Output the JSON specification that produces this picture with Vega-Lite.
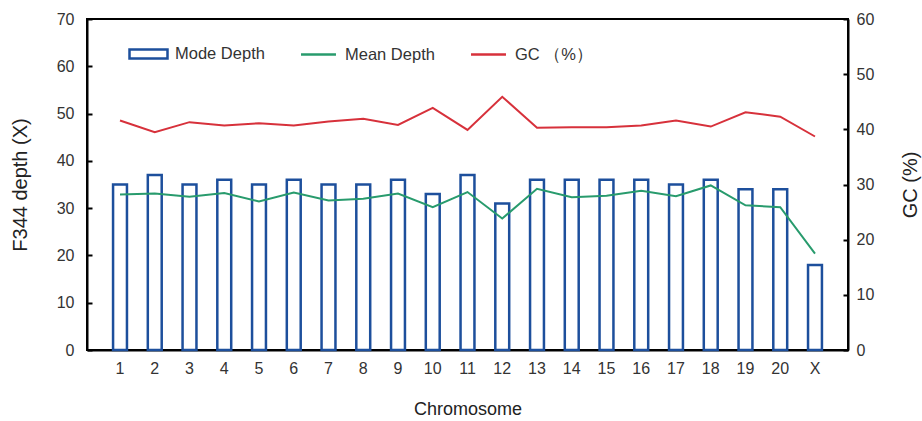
{
  "$schema": "https://vega.github.io/schema/vega-lite/v6.json",
  "width": 761,
  "height": 331,
  "autosize": {"type": "none"},
  "padding": {"left": 87, "top": 19, "right": 74, "bottom": 71},
  "config": {
    "view": {"stroke": "#000", "strokeWidth": 2},
    "font": "Liberation Sans",
    "axis": {
      "domainColor": "#000",
      "domainWidth": 2,
      "tickColor": "#000",
      "tickWidth": 2,
      "grid": false,
      "labelFont": "Liberation Sans",
      "labelFontSize": 16,
      "labelColor": "#333",
      "titleFont": "Liberation Sans",
      "titleFontSize": 20,
      "titleFontWeight": "normal",
      "titleColor": "#222"
    }
  },
  "data": {
    "values": [
      {"chr": "1", "mode": 35, "mean": 32.9, "gc": 41.6},
      {"chr": "2", "mode": 37, "mean": 33.1, "gc": 39.5},
      {"chr": "3", "mode": 35, "mean": 32.4, "gc": 41.3},
      {"chr": "4", "mode": 36, "mean": 33.2, "gc": 40.7},
      {"chr": "5", "mode": 35, "mean": 31.4, "gc": 41.1},
      {"chr": "6", "mode": 36, "mean": 33.3, "gc": 40.7},
      {"chr": "7", "mode": 35, "mean": 31.6, "gc": 41.4},
      {"chr": "8", "mode": 35, "mean": 32.0, "gc": 41.9},
      {"chr": "9", "mode": 36, "mean": 33.1, "gc": 40.8},
      {"chr": "10", "mode": 33, "mean": 30.2, "gc": 43.9},
      {"chr": "11", "mode": 37, "mean": 33.4, "gc": 39.9},
      {"chr": "12", "mode": 31, "mean": 27.8, "gc": 45.9},
      {"chr": "13", "mode": 36, "mean": 34.1, "gc": 40.3},
      {"chr": "14", "mode": 36, "mean": 32.3, "gc": 40.4},
      {"chr": "15", "mode": 36, "mean": 32.6, "gc": 40.4},
      {"chr": "16", "mode": 36, "mean": 33.7, "gc": 40.7},
      {"chr": "17", "mode": 35, "mean": 32.5, "gc": 41.6},
      {"chr": "18", "mode": 36, "mean": 34.8, "gc": 40.5},
      {"chr": "19", "mode": 34, "mean": 30.6, "gc": 43.1},
      {"chr": "20", "mode": 34, "mean": 30.2, "gc": 42.3},
      {"chr": "X", "mode": 18, "mean": 20.4, "gc": 38.7}
    ]
  },
  "encoding": {
    "x": {
      "field": "chr",
      "type": "ordinal",
      "sort": null,
      "scale": {"paddingInner": 0.6, "paddingOuter": 0.75},
      "axis": {
        "title": "Chromosome",
        "labelAngle": 0,
        "ticks": false,
        "labelPadding": 10,
        "titlePadding": 24,
        "titleFontSize": 18
      }
    }
  },
  "layer": [
    {
      "layer": [
        {
          "mark": {"type": "bar", "fill": "white", "strokeWidth": 2.5},
          "encoding": {
            "y": {
              "field": "mode",
              "type": "quantitative",
              "scale": {"domain": [0, 70]},
              "axis": {
                "title": "F344 depth (X)",
                "values": [0, 10, 20, 30, 40, 50, 60, 70],
                "tickSize": -5,
                "labelPadding": 18,
                "titlePadding": 26
              }
            },
            "stroke": {
              "datum": "Mode Depth",
              "type": "nominal",
              "scale": {
                "domain": ["Mode Depth", "Mean Depth", "GC （%）"],
                "range": ["#1d4f9c", "#289b6d", "#d7313b"]
              },
              "legend": {
                "title": null,
                "orient": "none",
                "legendX": 41,
                "legendY": 14,
                "direction": "horizontal",
                "columns": 3,
                "columnPadding": 31,
                "symbolSize": 1444,
                "symbolType": {"expr": "datum.value === 'Mode Depth' ? 'M-1,-0.24H1V0.24H-1Z' : 'M-0.92,0H0.92'"},
                "symbolStrokeWidth": 2.5,
                "symbolFillColor": "transparent",
                "symbolOpacity": 1,
                "labelFontSize": 16.5,
                "labelColor": "#333",
                "labelFont": "Liberation Sans",
                "labelOffset": 6
              }
            }
          }
        },
        {
          "mark": {"type": "line", "strokeWidth": 2},
          "encoding": {
            "y": {"field": "mean", "type": "quantitative"},
            "stroke": {"datum": "Mean Depth", "type": "nominal"}
          }
        }
      ]
    },
    {
      "mark": {"type": "line", "strokeWidth": 2},
      "encoding": {
        "y": {
          "field": "gc",
          "type": "quantitative",
          "scale": {"domain": [0, 60]},
          "axis": {
            "orient": "right",
            "title": "GC (%)",
            "titleAngle": -90,
            "values": [0, 10, 20, 30, 40, 50, 60],
            "tickSize": -5,
            "labelPadding": 13,
            "titlePadding": 47
          }
        },
        "stroke": {"datum": "GC （%）", "type": "nominal"}
      }
    }
  ],
  "resolve": {"scale": {"y": "independent"}}
}
